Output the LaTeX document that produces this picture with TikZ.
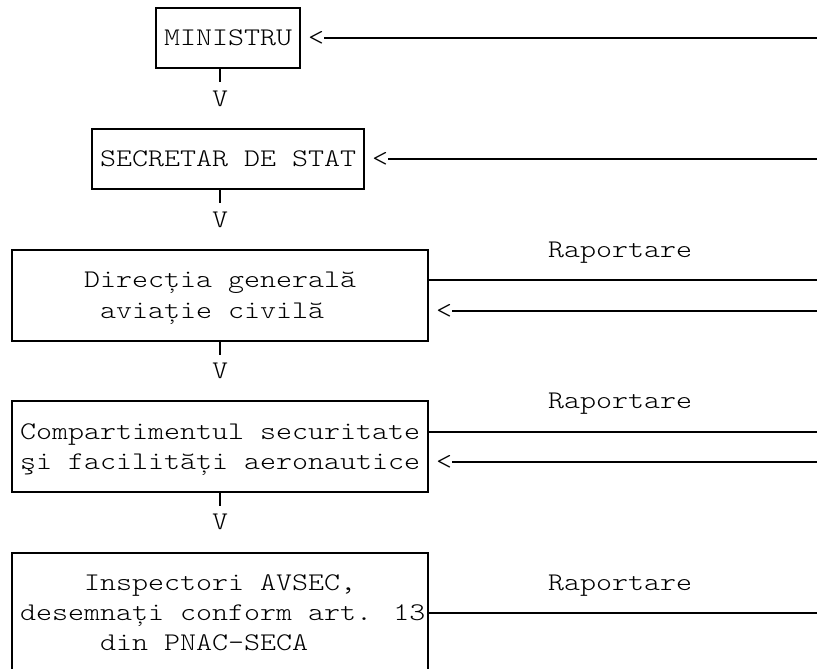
\documentclass[tikz,border=0pt]{standalone}
\usepackage{fontspec}
\usepackage{graphicx}
\newfontfamily\lightmono{lmmonolt10-regular.otf}
\newcommand{\stretchtxt}[1]{\scalebox{1.2}[1]{#1}}
\begin{document}
\begin{tikzpicture}[x=1pt,y=-1pt]
\tikzset{
  lbl/.style={font={\lightmono\fontsize{25.4}{30}\selectfont}, text=black, inner sep=0pt, outer sep=0pt, anchor=base west, yshift=-7.5pt},
  frame/.style={draw=black, line width=2pt, inner sep=0pt, outer sep=0pt},
  wire/.style={draw=black, line width=2pt},
  stem/.style={draw=black, line width=2pt},
}
\useasboundingbox (0,0) rectangle (817,669);
\clip (0,0) rectangle (817,669);

% boxes
\node[frame, minimum width=144pt, minimum height=60pt] (b1) at (228,38) {};
\node[frame, minimum width=272pt, minimum height=60pt] (b2) at (228,159) {};
\node[frame, minimum width=416pt, minimum height=91pt] (b3) at (220,295.5) {};
\node[frame, minimum width=416pt, minimum height=91pt] (b4) at (220,446.5) {};
\node[draw=none, inner sep=0pt, outer sep=0pt, minimum width=416pt, minimum height=130pt] (b5) at (220,618) {};
\draw[wire, line join=miter] (b5.south west) -- (b5.north west) -- (b5.north east) -- (b5.south east);

% box texts
\node[lbl] (t1) at (164,38) {\stretchtxt{MINISTRU}};
\node[lbl] (t2) at (100,159) {\stretchtxt{SECRETAR DE STAT}};
\node[lbl] (t3a) at (84,280) {\stretchtxt{Direcția generală}};
\node[lbl] (t3b) at (100,311) {\stretchtxt{aviație civilă}};
\node[lbl] (t4a) at (20,432) {\stretchtxt{Compartimentul securitate}};
\node[lbl] (t4b) at (20,462) {\stretchtxt{şi facilități aeronautice}};
\node[lbl] (t5a) at (84,583) {\stretchtxt{Inspectori AVSEC,}};
\node[lbl] (t5b) at (20,613) {\stretchtxt{desemnați conform art. 13}};
\node[lbl] (t5c) at (100,643) {\stretchtxt{din PNAC-SECA}};

% downward arrows (stem + V)
\node[lbl] (v1) at (212,99) {\stretchtxt{V}};
\node[lbl] (v2) at (212,220) {\stretchtxt{V}};
\node[lbl] (v3) at (212,371) {\stretchtxt{V}};
\node[lbl] (v4) at (212,522) {\stretchtxt{V}};
\draw[stem] (b1.south -| v1) -- ++(0,14);
\draw[stem] (b2.south -| v2) -- ++(0,14);
\draw[stem] (b3.south -| v3) -- ++(0,14);
\draw[stem] (b4.south -| v4) -- ++(0,14);

% right-hand ends
\coordinate (e0) at (820,38);
\coordinate (e4) at (820,159);
\coordinate (e8) at (820,280);
\coordinate (e9) at (820,311);
\coordinate (e13) at (820,432);
\coordinate (e14) at (820,462);
\coordinate (e19) at (820,613);

% incoming arrows
\node[lbl] (a1) at (308,38) {\stretchtxt{<}};
\node[lbl] (a2) at (372,159) {\stretchtxt{<}};
\node[lbl] (a3) at (436,311) {\stretchtxt{<}};
\node[lbl] (a4) at (436,462) {\stretchtxt{<}};
\draw[wire] (e0) -- (e0 -| a1.east);
\draw[wire] (e4) -- (e4 -| a2.east);
\draw[wire] (e9) -- (e9 -| a3.east);
\draw[wire] (e14) -- (e14 -| a4.east);

% reporting lines
\node[lbl] (r1) at (548,250) {\stretchtxt{Raportare}};
\node[lbl] (r2) at (548,401) {\stretchtxt{Raportare}};
\node[lbl] (r3) at (548,583) {\stretchtxt{Raportare}};
\draw[wire] (b3.east |- e8) -- (e8);
\draw[wire] (b4.east |- e13) -- (e13);
\draw[wire] (b5.east |- e19) -- (e19);
\end{tikzpicture}
\end{document}
